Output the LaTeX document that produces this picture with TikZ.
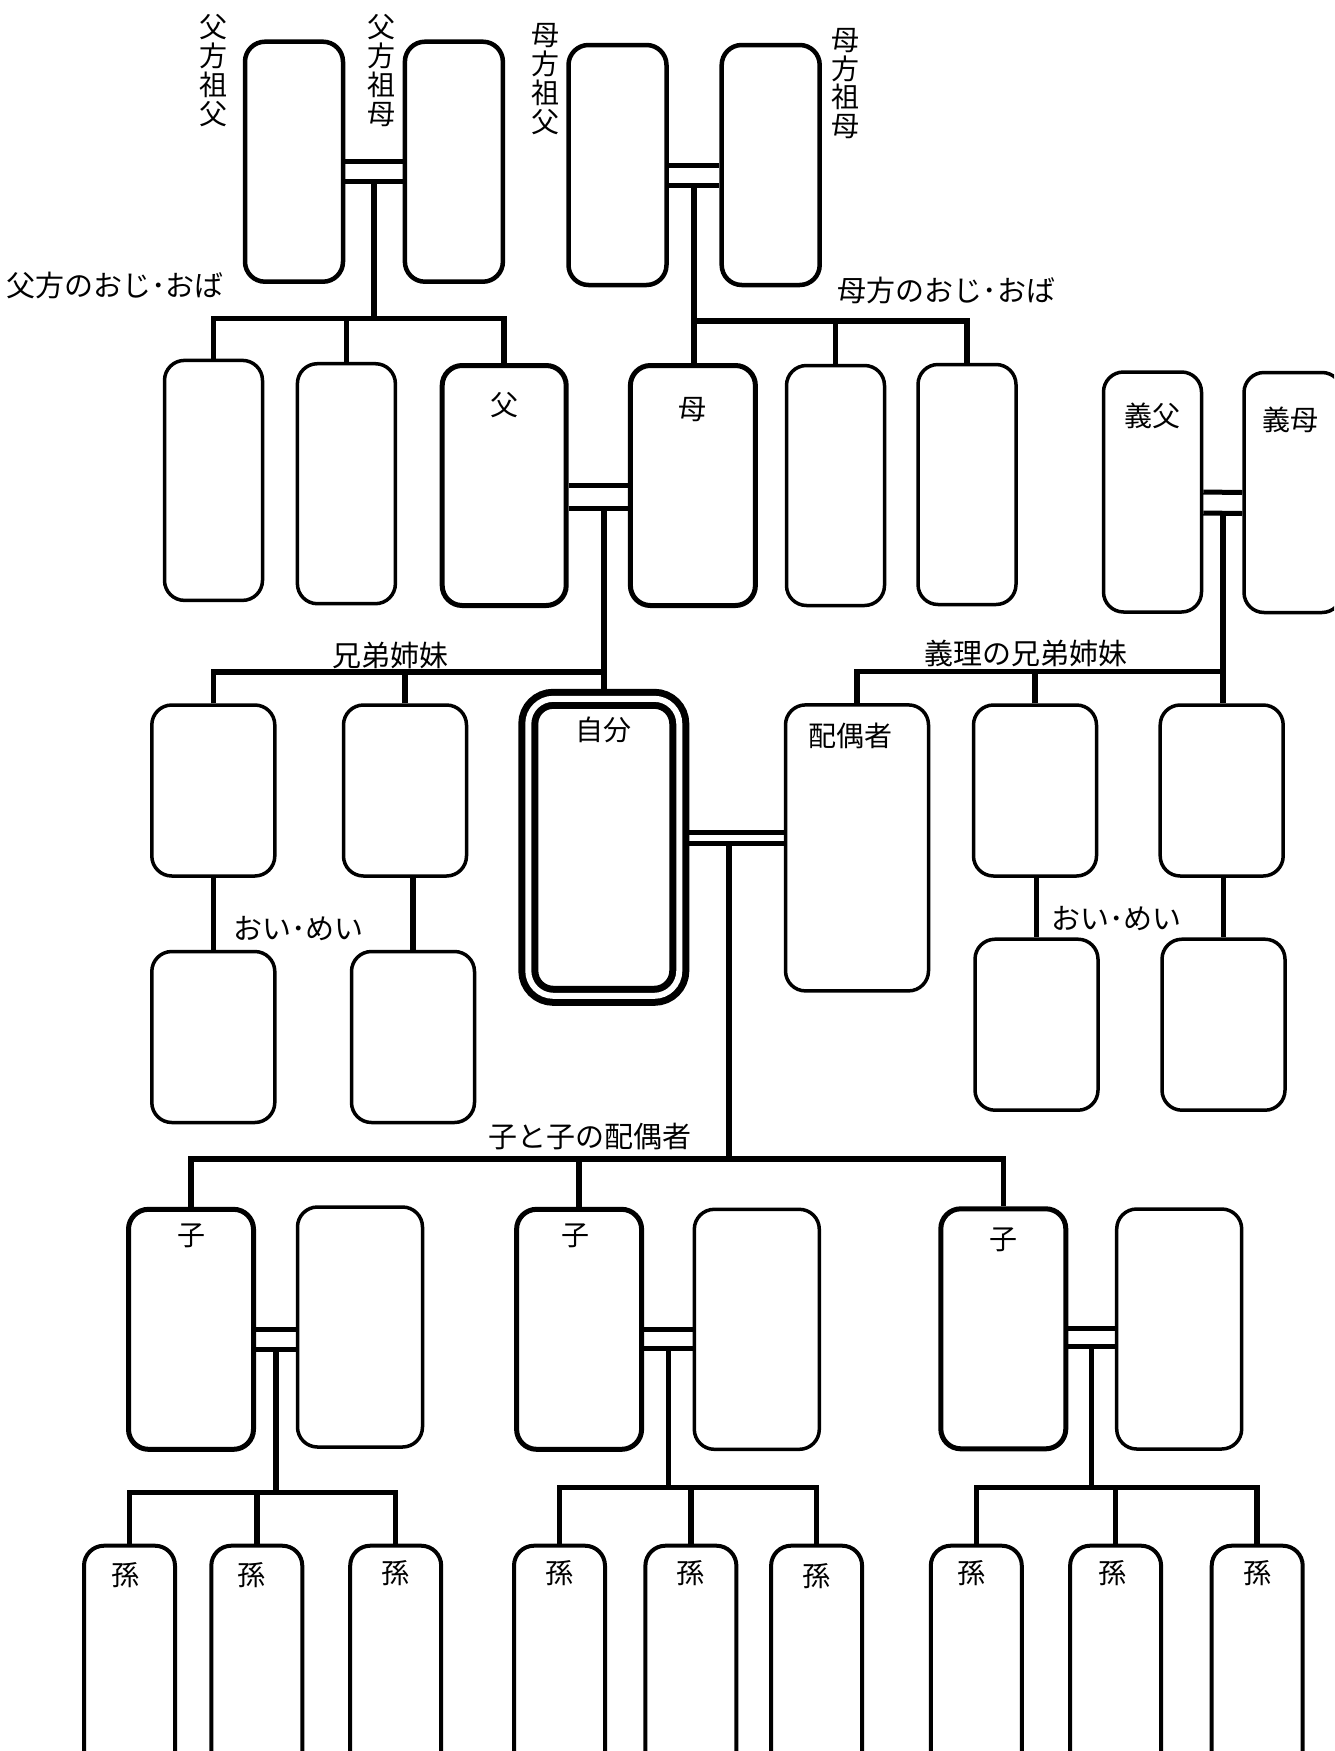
\documentclass[tikz,border=0pt]{standalone}
\usepackage{fontspec}
\setmainfont{Noto Sans CJK JP}
\usetikzlibrary{positioning,calc}

\newcommand{\headfont}{\fontsize{29}{30}\selectfont}
\newcommand{\tagfont}{\fontsize{28}{29}\selectfont}
\newcommand{\stackfont}{\fontsize{28}{28.8}\selectfont}

\tikzset{
    person/.style={draw, fill=white, line width=3.5pt, rounded corners=20pt, inner sep=0pt, minimum width=123pt, minimum height=171pt},
    tall/.style={person, minimum width=98pt, minimum height=240pt},
    direct/.style={person, line width=5pt, minimum width=125pt, minimum height=240pt},
    grandkid/.style={person, line width=4pt, minimum width=91pt, minimum height=260pt},
    tag/.style={anchor=north, inner sep=0pt, minimum width=0pt, minimum height=0pt, font=\tagfont},
    head/.style={inner sep=0pt, font=\headfont},
    kin/.style={line width=5.5pt},
    wed/.style={line width=5pt},
}

\begin{document}
\begin{tikzpicture}[x=1pt,y=-1pt]
    \useasboundingbox (0,0) rectangle (1334,1751);
    \clip (0,0) rectangle (1334,1751);
    \fill[white] (0,0) rectangle (1334,1751);

    %%% Grandparents
    % Boxes
    \node[tall, line width=4.5pt] (pGrandpa) at (294,161.7) {};
    \node[tall, line width=4.5pt] (pGrandma) at (453.9,161.7) {};
    \node[tall, line width=4.5pt] (mGrandpa) at (617.5,165) {};
    \node[tall, line width=4.5pt] (mGrandma) at (770.7,165) {};

    % Vertical labels
    \node[head, font=\stackfont, align=center] (pGrandpaTxt) at (213,70.5) {父\\方\\祖\\父};
    \node[head, font=\stackfont, align=center] (pGrandmaTxt) at (381.7,70.5) {父\\方\\祖\\母};
    \node[head, font=\stackfont, align=center] (mGrandpaTxt) at (545.7,79) {母\\方\\祖\\父};
    \node[head, font=\stackfont, align=center] (mGrandmaTxt) at (845.7,83.5) {母\\方\\祖\\母};

    %%% Parents and their siblings
    \node[tall] (pAunt1) at (213.5,480.4) {};
    \node[tall] (pAunt2) at (346.4,483.7) {};
    \node[direct, minimum width=124pt, label={[tag,yshift=-29pt]north:父}] (father) at (504.2,485.5) {};
    \node[direct, label={[tag,yshift=-34pt]north:母}] (mother) at (692.9,485.5) {};
    \node[tall] (mAunt1) at (835.5,485.5) {};
    \node[tall] (mAunt2) at (967,484.5) {};

    \node[head] (pAuntTxt) at (114.8,285) {父方のおじ･おば};
    \node[head] (mAuntTxt) at (946.4,290) {母方のおじ･おば};

    %%% Parents-in-law
    \node[tall, label={[tag,yshift=-32pt]north:義父}] (inlawPa) at (1152.5,492) {};
    \node[tall, label={[tag,xshift=-3pt,yshift=-36pt]north:義母}] (inlawMa) at (1293,492.5) {};

    %%% Self and spouse
    \node[draw, fill=white, double, double distance=6pt, line width=7pt, rounded corners=25pt, inner sep=0pt,
          minimum width=151pt, minimum height=297pt, outer sep=10pt,
          label={[tag,yshift=-28pt]north:自分}] (self) at (603.8,847.3) {};
    \node[person, minimum width=143pt, minimum height=286pt, label={[tag,xshift=-7pt,yshift=-20pt]north:配偶者}] (spouse) at (857,847.9) {};

    % Siblings and nephews
    \node[person] (sib1) at (213.3,790.5) {};
    \node[person] (sib2) at (405,790.5) {};
    \node[person] (nephew1) at (213.3,1037) {};
    \node[person] (nephew2) at (413,1037) {};
    \node[head] (sibTxt) at (390.8,655) {兄弟姉妹};
    \node[head] (nephewTxt) at (298.3,928.3) {おい･めい};

    % Siblings-in-law and their children
    \node[person] (isib1) at (1035,790.5) {};
    \node[person] (isib2) at (1221.7,790.5) {};
    \node[person] (inephew1) at (1036.5,1024.7) {};
    \node[person] (inephew2) at (1223.5,1024.7) {};
    \node[head] (isibTxt) at (1026,653.3) {義理の兄弟姉妹};
    \node[head] (inephewTxt) at (1116.7,918.3) {おい･めい};

    %%% Children and their spouses
    \node[direct, label={[tag,yshift=-17pt]north:子}] (kid1) at (191,1329.3) {};
    \node[person, minimum width=125pt, minimum height=240pt] (kidMate1) at (360,1327) {};
    \node[direct, label={[tag,xshift=-4pt,yshift=-17pt]north:子}] (kid2) at (579.1,1329.3) {};
    \node[person, minimum width=125pt, minimum height=240pt] (kidMate2) at (756.8,1329.3) {};
    \node[direct, label={[tag,yshift=-21pt]north:子}] (kid3) at (1003.3,1328.8) {};
    \node[person, minimum width=125pt, minimum height=240pt] (kidMate3) at (1179.2,1329) {};
    \node[head] (kidTxt) at (590.3,1136.7) {子と子の配偶者};

    %%% Grandchildren
    \node[grandkid, label={[tag,xshift=-4pt,yshift=-19pt]north:孫}] (gkid1) at (129.5,1675.7) {};
    \node[grandkid, label={[tag,xshift=-5pt,yshift=-19pt]north:孫}] (gkid2) at (256.8,1675.7) {};
    \node[grandkid, label={[tag,yshift=-17pt]north:孫}] (gkid3) at (395.7,1675.7) {};
    \node[grandkid, label={[tag,yshift=-17pt]north:孫}] (gkid4) at (559.5,1675.7) {};
    \node[grandkid, label={[tag,yshift=-17pt]north:孫}] (gkid5) at (690.9,1675.7) {};
    \node[grandkid, label={[tag,yshift=-20pt]north:孫}] (gkid6) at (816.6,1675.7) {};
    \node[grandkid, label={[tag,xshift=-5pt,yshift=-17pt]north:孫}] (gkid7) at (976.3,1675.7) {};
    \node[grandkid, label={[tag,xshift=-3pt,yshift=-17pt]north:孫}] (gkid8) at (1115.6,1675.7) {};
    \node[grandkid, label={[tag,yshift=-17pt]north:孫}] (gkid9) at (1257.2,1675.7) {};

    %%% Invisible joints and bars
    \coordinate (pGrandJoin) at ($(pGrandpa.east)!0.5!(pGrandma.west)+(0,20)$);
    \coordinate (mGrandJoin) at ($(mGrandpa.east)!0.5!(mGrandma.west)+(0,20)$);
    \coordinate (parentsWed) at ($(father.east)+(0,23)$);
    \coordinate (inlawJoin) at ($(inlawPa.east)!0.5!(inlawMa.west)+(0,21)$);
    \coordinate (selfJoin) at (729,843.3);
    \coordinate (kid1Join) at ($(kid1.east)!0.5!(kid1.east -| kidMate1.west)+(0,20)$);
    \coordinate (kid2Join) at ($(kid2.east)!0.5!(kid2.east -| kidMate2.west)+(0,19)$);
    \coordinate (kid3Join) at ($(kid3.east)!0.5!(kid3.east -| kidMate3.west)+(0,18)$);
    \coordinate (pBar) at (0,318.3);
    \coordinate (mBar) at (0,321);
    \coordinate (sibBar) at (0,672);
    \coordinate (inlawBar) at (0,671.7);
    \coordinate (kidBar) at (0,1159);
    \coordinate (gkidBar1) at (0,1492.7);
    \coordinate (gkidBar2) at (0,1487.3);
    \coordinate (gkidBar3) at (0,1487.3);

    %%% Marriages (double lines)
    \draw[wed] (pGrandpa.east) -- (pGrandma.west);
    \draw[wed] ($(pGrandpa.east)+(0,20)$) -- ($(pGrandma.west)+(0,20)$);
    \draw[wed] (mGrandpa.east) -- (mGrandma.west);
    \draw[wed] ($(mGrandpa.east)+(0,20)$) -- ($(mGrandma.west)+(0,20)$);
    \draw[wed] (father.east) -- (mother.west);
    \draw[wed] (parentsWed) -- (parentsWed -| mother.west);
    \draw[wed] (inlawPa.east) -- (inlawMa.west);
    \draw[wed] ($(inlawPa.east)+(0,21)$) -- ($(inlawMa.west)+(0,21)$);
    \draw[wed] ($(self.east)+(0,-14.6)$) -- ($(self.east -| spouse.west)+(0,-14.6)$);
    \draw[wed] ($(self.east)+(0,-4)$) -- ($(self.east -| spouse.west)+(0,-4)$);
    \draw[wed] (kid1.east) -- (kid1.east -| kidMate1.west);
    \draw[wed] ($(kid1.east)+(0,20)$) -- ($(kid1.east -| kidMate1.west)+(0,20)$);
    \draw[wed] (kid2.east) -- (kid2.east -| kidMate2.west);
    \draw[wed] ($(kid2.east)+(0,19)$) -- ($(kid2.east -| kidMate2.west)+(0,19)$);
    \draw[wed] (kid3.east) -- (kid3.east -| kidMate3.west);
    \draw[wed] ($(kid3.east)+(0,18)$) -- ($(kid3.east -| kidMate3.west)+(0,18)$);

    %%% Descent lines
    % Paternal side
    \draw[kin] (pGrandJoin) -- (pGrandJoin |- pBar);
    \draw[kin] (pAunt1.north) -- (pAunt1.north |- pBar) -- (father.north |- pBar) -- (father.north);
    \draw[kin] (pAunt2.north) -- (pAunt2.north |- pBar);

    % Maternal side
    \draw[kin] (mGrandJoin) -- (mGrandJoin |- mother.north);
    \draw[kin] (mGrandJoin |- mBar) -- (mAunt2.north |- mBar) -- (mAunt2.north);
    \draw[kin] (mAunt1.north) -- (mAunt1.north |- mBar);

    % Self and siblings
    \draw[kin] (self.north |- parentsWed) -- (self.north);
    \draw[kin] (sib1.north) -- (sib1.north |- sibBar) -- (self.north |- sibBar);
    \draw[kin] (sib2.north) -- (sib2.north |- sibBar);
    \draw[kin] (sib1.south) -- (nephew1.north);
    \draw[kin] (nephew2.north |- sib2.south) -- (nephew2.north);

    % In-law side
    \draw[kin] (inlawJoin) -- (inlawJoin |- isib2.north);
    \draw[kin] (spouse.north) -- (spouse.north |- inlawBar) -- (inlawJoin |- inlawBar);
    \draw[kin] (isib1.north) -- (isib1.north |- inlawBar);
    \draw[kin] (inephew1.north |- isib1.south) -- (inephew1.north);
    \draw[kin] (inephew2.north |- isib2.south) -- (inephew2.north);

    % Children
    \draw[kin] (selfJoin) -- (selfJoin |- kidBar);
    \draw[kin] (kid1.north) -- (kid1.north |- kidBar) -- (kid3.north |- kidBar) -- (kid3.north);
    \draw[kin] (kid2.north |- kidBar) -- (kid2.north);

    % Grandchildren
    \draw[kin] (kid1Join) -- (kid1Join |- gkidBar1);
    \draw[kin] (gkid1.north) -- (gkid1.north |- gkidBar1) -- (gkid3.north |- gkidBar1) -- (gkid3.north);
    \draw[kin] (gkid2.north |- gkidBar1) -- (gkid2.north);
    \draw[kin] (kid2Join) -- (kid2Join |- gkidBar2);
    \draw[kin] (gkid4.north) -- (gkid4.north |- gkidBar2) -- (gkid6.north |- gkidBar2) -- (gkid6.north);
    \draw[kin] (gkid5.north |- gkidBar2) -- (gkid5.north);
    \draw[kin] (kid3Join) -- (kid3Join |- gkidBar3);
    \draw[kin] (gkid7.north) -- (gkid7.north |- gkidBar3) -- (gkid9.north |- gkidBar3) -- (gkid9.north);
    \draw[kin] (gkid8.north |- gkidBar3) -- (gkid8.north);
\end{tikzpicture}
\end{document}
